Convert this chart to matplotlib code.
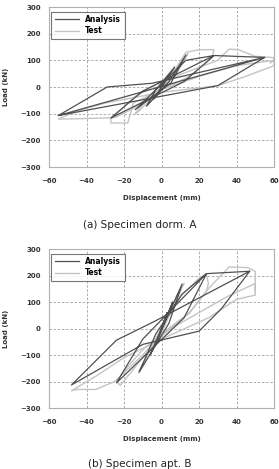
import matplotlib
matplotlib.use("Agg")
import matplotlib.pyplot as plt

# ---------------- data ----------------
# Specimen dorm. A
a_ana_x = [0, 4, -4, 7, -3, -8, 4, 13, 5, -14, -3, 13, 28, 12, -27, -10, 28,
           55, 30, -55, -29, -5, 55, -55]
a_ana_y = [0, 45, -45, 75, -10, -72, 20, 120, 15, -85, -10, 100, 118, 20, -116, -15, 118,
           111, 5, -107, 0, 14, 111, -107]
a_test_x = [0, 5, 7, 2, -5, -7, -2, 6, 12, 14, 8, -5, -12, -14, -6, 5, 13, 20, 28, 27,
            15, 0, -15, -18, -27, -27, -15, 0, 15, 30, 36, 41, 50, 60, 60, 45, 30, 0,
            -30, -45, -55, -50, -25, -15, 0, 20, 40, 60, 58]
a_test_y = [0, 50, 70, 20, -40, -65, -15, 40, 100, 125, 50, -40, -90, -100, -30, 40, 130, 140, 140, 110,
            40, -10, -60, -135, -135, -120, -40, 20, 60, 100, 142, 140, 115, 110, 80, 40, 5, -20,
            -60, -90, -120, -120, -115, -80, -10, 40, 80, 100, 90]

# Specimen apt. B
b_ana_x = [0, 3, -3, 6, -6, 11, 4, -12, -3, 11, 24, 12, -24, -10, 24,
           47, 32, 20, -10, -48, -24, -4, 47]
b_ana_y = [0, 60, -60, 100, -100, 168, 20, -166, -20, 130, 207, 40, -205, -40, 207,
           216, 75, -10, -60, -213, -44, 26, 216]
b_test_x = [0, 4, 6, 1, -4, -6, 0, 8, 11, 12, 5, -5, -10, -12, -3, 10, 20, 24, 25, 24,
            15, 0, -10, -20, -24, -22, -10, 0, 15, 25, 36, 46, 50, 50, 40, 25, 0, -20,
            -35, -48, -45, -35, -25, -10, 0, 20, 35, 50, 50]
b_test_y = [0, 60, 90, 20, -60, -90, -20, 120, 160, 170, 60, -60, -140, -160, -40, 120, 190, 205, 170, 140,
            60, -20, -80, -160, -200, -215, -110, -30, 60, 150, 232, 230, 215, 126, 110, 40, -40, -110,
            -180, -235, -230, -230, -200, -100, -20, 60, 120, 170, 140]

xticks = [-60, -40, -20, 0, 20, 40, 60]
yticks = [-300, -200, -100, 0, 100, 200, 300]
captions = ["(a) Specimen dorm. A", "(b) Specimen apt. B"]
labels = ["Analysis", "Test"]

# ---------------- figure ----------------
fig = plt.figure(figsize=(2.79, 4.69), dpi=100)
W, H = 279, 469
boxes = [(49, 7, 274, 167), (49, 249, 274, 408)]
datasets = [(a_ana_x, a_ana_y, a_test_x, a_test_y), (b_ana_x, b_ana_y, b_test_x, b_test_y)]
caption_y = [225, 464]

for (l, t, r, b), (ax_, ay_, tx_, ty_), cap, cy in zip(boxes, datasets, captions, caption_y):
    ax = fig.add_axes([l / W, 1 - b / H, (r - l) / W, (b - t) / H])
    ax.plot(tx_, ty_, color="#c4c4c4", lw=1.0, label=labels[1], zorder=2)
    ax.plot(ax_, ay_, color="#505050", lw=0.9, label=labels[0], zorder=3)
    ax.set_xlim(-60, 60)
    ax.set_ylim(-300, 300)
    ax.set_xticks(xticks)
    ax.set_yticks(yticks)
    ax.grid(True, ls=(0, (3, 2)), color="#a0a0a0", lw=0.6)
    for s in ax.spines.values():
        s.set_color("#b0b0b0")
        s.set_linewidth(0.8)
    ax.tick_params(length=0, labelsize=5, colors="#333333")
    ax.tick_params(axis="x", pad=8)
    ax.tick_params(axis="y", pad=6)
    for lab in ax.get_xticklabels() + ax.get_yticklabels():
        lab.set_fontweight("bold")
    ax.set_xlabel("Displacement (mm)", fontsize=5, fontweight="bold", color="#333333", labelpad=8)
    ax.set_ylabel("Load (kN)", fontsize=5, fontweight="bold", color="#333333", labelpad=8)
    h, lb = ax.get_legend_handles_labels()
    leg = ax.legend(h[::-1], lb[::-1], loc="upper left", fontsize=5.5, frameon=True,
                    fancybox=False, borderpad=0.45, handlelength=3.2, labelspacing=0.3,
                    borderaxespad=0.3, bbox_to_anchor=(0.0, 0.985))
    leg.get_frame().set_edgecolor("#555555")
    leg.get_frame().set_linewidth(0.8)
    for txt in leg.get_texts():
        txt.set_fontweight("bold")
    fig.text(140 / W, 1 - cy / H, cap, ha="center", va="center", fontsize=7.5, color="#222222")

fig.savefig("out.png", dpi=100)
